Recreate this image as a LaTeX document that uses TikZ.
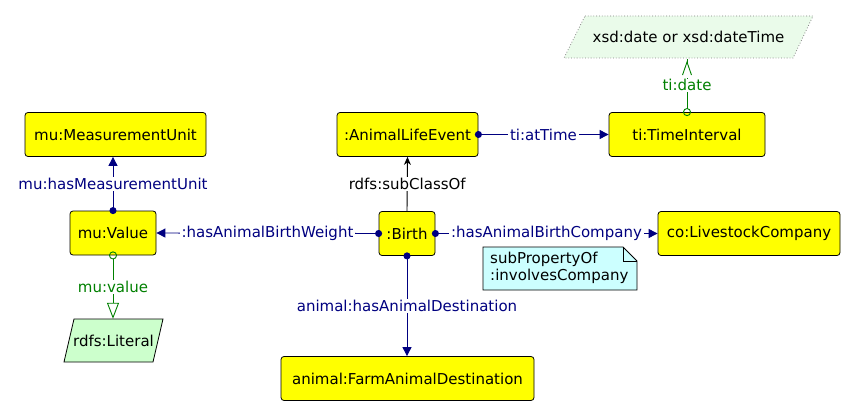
\documentclass[tikz,border=0pt]{standalone}
\usepackage{fontspec}
\setmainfont{DejaVu Sans}
\usepackage{xcolor}
\usepackage{tikz}
\usetikzlibrary{arrows.meta}

\definecolor{clsyellow}{HTML}{FFFF00}
\definecolor{objblue}{HTML}{000080}
\definecolor{dtgreen}{HTML}{008000}
\definecolor{litgreen}{HTML}{CCFFCC}
\definecolor{xsdgreen}{HTML}{EAFBEA}
\definecolor{notecyan}{HTML}{CCFFFF}

\tikzset{
  cls/.style={draw=black, fill=clsyellow, rounded corners=3pt, line width=0.8pt,
    minimum height=44pt, inner sep=0pt},
  lit/.style={minimum height=43pt, inner sep=0pt},
  lbl/.style={fill=white, inner xsep=2pt, inner ysep=1pt},
  objprop/.style={draw=objblue, line width=0.9pt, shorten <=-3.5pt,
    {Circle[length=7pt]}-{Triangle[length=9pt,width=9pt]}},
  dtprop/.style={draw=dtgreen, line width=0.9pt, shorten <=-4pt,
    {Circle[open,length=8pt]}-{Triangle[open,length=16pt,width=12pt]}},
  dtstart/.style={draw=dtgreen, line width=0.9pt, shorten <=-4pt,
    {Circle[open,length=8pt]}-},
  dtbarb/.style={draw=white, line width=0.9pt, shorten >=2pt,
    -{Straight Barb[color=dtgreen,length=13pt,width=9pt]}},
  subcls/.style={draw=black, line width=0.9pt, -{Stealth[length=8pt,width=7pt,inset=2.5pt]}},
}

\begin{document}
\begin{tikzpicture}[x=1pt,y=-1pt,font=\fontsize{15}{17}\selectfont]
  \useasboundingbox (0,0) rectangle (856,414);
  % datatype shapes
  \filldraw[fill=litgreen,draw=black,line width=0.8pt] (74,319) -- (163,319) -- (153,362) -- (64,362) -- cycle;
  \filldraw[fill=xsdgreen,draw=gray,dotted,line width=0.8pt] (585,16) -- (813,16) -- (793,58) -- (564,58) -- cycle;
  \node[lit] (literal) at (113.5,340.5) {rdfs:Literal};
  \node[lit] (xsddate) at (688.5,37) {xsd:date or xsd:dateTime};

  % classes
  \node[cls,minimum width=181pt] (unit) at (115.5,134.5) {mu:MeasurementUnit};
  \node[cls,minimum width=86pt] (value) at (113,233) {mu:Value};
  \node[cls,minimum width=141pt] (event) at (407.5,134.5) {:AnimalLifeEvent};
  \node[cls,minimum width=156pt] (interval) at (687,134.5) {ti:TimeInterval};
  \node[cls,minimum width=56pt] (birth) at (407,233.5) {:Birth};
  \node[cls,minimum width=182pt] (company) at (749,233.5) {co:LivestockCompany};
  \node[cls,minimum width=253pt] (destination) at (407.5,378.5) {animal:FarmAnimalDestination};

  % note
  \filldraw[fill=notecyan,draw=black,line width=0.8pt] (483,247) -- (623,247) -- (637,261) -- (637,290) -- (483,290) -- cycle;
  \draw[line width=0.8pt] (623,247) -- (623,261) -- (637,261);
  \node[anchor=north west,align=left,inner sep=0pt] (note) at (490,252) {subPropertyOf\\:involvesCompany};

  % properties
  \draw[objprop] (value.north) -- (value.north |- unit.south)
    node[lbl,midway,text=objblue] (hasunit) {mu:hasMeasurementUnit};
  \draw[objprop] (birth.west) -- (value.east)
    node[lbl,midway,text=objblue] (hasweight) {:hasAnimalBirthWeight};
  \draw[objprop] (birth.east) -- (company.west)
    node[lbl,midway,text=objblue] (hascompany) {:hasAnimalBirthCompany};
  \draw[objprop] (birth.south) -- (birth.south |- destination.north)
    node[lbl,midway,text=objblue] (hasdest) {animal:hasAnimalDestination};
  \draw[objprop] (event.east) -- (interval.west)
    node[lbl,midway,text=objblue] (attime) {ti:atTime};
  \draw[subcls] (birth.north) -- (event.south)
    node[lbl,midway] (subclass) {rdfs:subClassOf};
  \draw[dtprop] (value.south) -- (value.south |- literal.north)
    node[lbl,midway,text=dtgreen] (muvalue) {mu:value};
  \draw[dtstart] (interval.north) -- (interval.north |- xsddate.south)
    node[lbl,midway,text=dtgreen] (tidate) {ti:date};
  \draw[dtbarb] (tidate.north) -- (tidate.north |- xsddate.south);
\end{tikzpicture}
\end{document}
